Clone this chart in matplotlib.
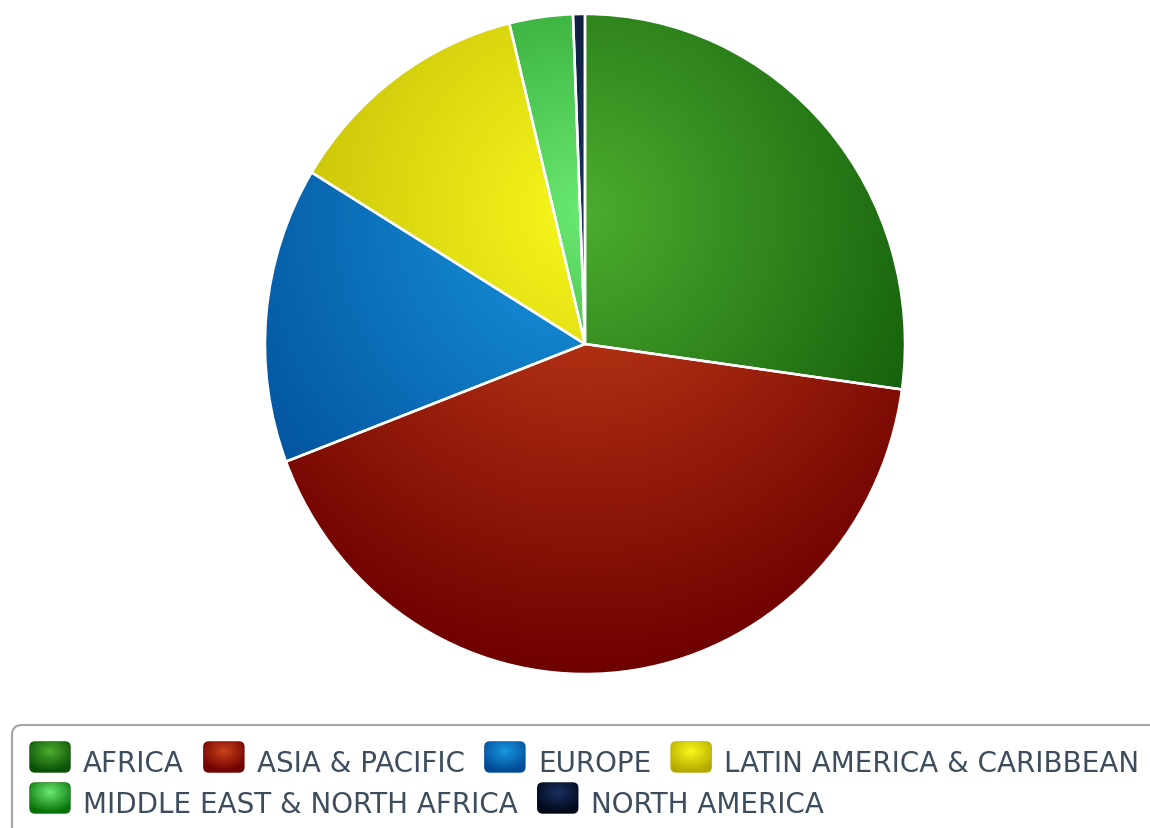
#!/usr/bin/env python3
"""Pie chart of regional shares with radial-gradient wedges and a flowing legend."""

import matplotlib
matplotlib.use("Agg")
import matplotlib.pyplot as plt
from matplotlib import font_manager
from matplotlib.colors import to_rgb
from matplotlib.patches import FancyBboxPatch
import numpy as np

# ---- data (percent) ----
regions = ["AFRICA", "ASIA & PACIFIC", "EUROPE", "LATIN AMERICA & CARIBBEAN",
           "MIDDLE EAST & NORTH AFRICA", "NORTH AMERICA"]
shares = [27.2, 42.0, 14.5, 12.5, 3.2, 0.6]

# light (gradient centre) / dark (gradient rim) colour per region
light_colors = ["#4cac2e", "#c8421a", "#1898e0", "#f8f81c", "#6aea72", "#1a3060"]
dark_colors = ["#0a5005", "#6e0000", "#004a95", "#b4aa00", "#087008", "#000818"]

W, H = 1150, 829
TEXT_COLOR = "#3d4d5d"


def pick_font():
    """Prefer a narrow sans (closer to the original), else DejaVu Sans."""
    try:
        font_manager.findfont("Liberation Sans Narrow", fallback_to_default=False)
        return "Liberation Sans Narrow", 24
    except ValueError:
        return "DejaVu Sans", 20


def gradient(xs, ys, cx, cy, rx, ry, c0, c1):
    """Radial gradient image (rows follow ys) from c0 at (cx, cy) to c1 at r=1."""
    gx, gy = np.meshgrid(xs, ys)
    t = np.clip(np.hypot((gx - cx) / rx, (gy - cy) / ry), 0, 1)[..., None]
    a, b = np.array(to_rgb(c0)), np.array(to_rgb(c1))
    return a * (1 - t) + b * t


fig = plt.figure(figsize=(W / 100, H / 100), dpi=100)
fig.patch.set_facecolor("white")

# ---- pie (centre ~ (585, 345) px, 640 px wide, 660 px tall) ----
ax = fig.add_axes([265 / W, (H - 675) / H, 640 / W, 660 / H])
wedges, _ = ax.pie(shares, colors=light_colors, startangle=90, counterclock=False,
                   wedgeprops=dict(edgecolor="white", linewidth=1.8))

# one gradient for the whole pie: centre at 30% from top, radius 0.7 of the box
xs = np.linspace(-1, 1, 500)
ys = np.linspace(-1, 1, 500)
for w, c0, c1 in zip(wedges, light_colors, dark_colors):
    img = gradient(xs, ys, 0.0, 0.4, 1.4, 1.4, c0, c1)
    im = ax.imshow(img, extent=(-1, 1, -1, 1), origin="lower", zorder=2,
                   interpolation="bilinear")
    im.set_clip_path(w)
    w.set_facecolor("none")
    w.set_zorder(3)
ax.set_aspect("auto")
ax.set_xlim(-1, 1)
ax.set_ylim(-1, 1)
ax.axis("off")

# ---- legend, laid out in pixel coordinates ----
lax = fig.add_axes([0, 0, 1, 1], zorder=5)
lax.set_xlim(0, W)
lax.set_ylim(H, 0)
lax.axis("off")
lax.patch.set_alpha(0)

box = FancyBboxPatch((12, 726), W + 40, 140,
                     boxstyle="round,pad=0,rounding_size=10",
                     facecolor="white", edgecolor="#a6a6a6", linewidth=1.5)
lax.add_patch(box)

family, fsize = pick_font()
renderer = fig.canvas.get_renderer()

mw, mh = 40, 30          # marker size
x0, x_max = 30, W - 2    # row start / wrap limit
baselines = [772, 813]   # text baseline per row
row, x = 0, x0
for name, c0, c1 in zip(regions, light_colors, dark_colors):
    t = lax.text(0, 0, name, fontsize=fsize, family=family, color=TEXT_COLOR,
                 va="baseline", ha="left")
    tw = t.get_window_extent(renderer).width
    if x + mw + 13 + tw > x_max and x > x0:
        row += 1
        x = x0
    base = baselines[row]
    top = base - 29
    marker = FancyBboxPatch((x, top), mw, mh,
                            boxstyle="round,pad=0,rounding_size=5",
                            facecolor=c1, edgecolor=c1, linewidth=1.0, zorder=6)
    lax.add_patch(marker)
    mx = np.linspace(x, x + mw, 40)
    my = np.linspace(top, top + mh, 30)
    mimg = gradient(mx, my, x + mw / 2, top + 0.3 * mh, 0.7 * mw, 0.7 * mh, c0, c1)
    mi = lax.imshow(mimg, extent=(x, x + mw, top + mh, top), origin="upper",
                    zorder=7, interpolation="bilinear")
    mi.set_clip_path(marker)
    t.set_position((x + mw + 13, base))
    x += mw + 13 + tw + 20

lax.set_aspect("auto")
lax.set_xlim(0, W)
lax.set_ylim(H, 0)

fig.savefig("out.png", dpi=100, facecolor="white")
